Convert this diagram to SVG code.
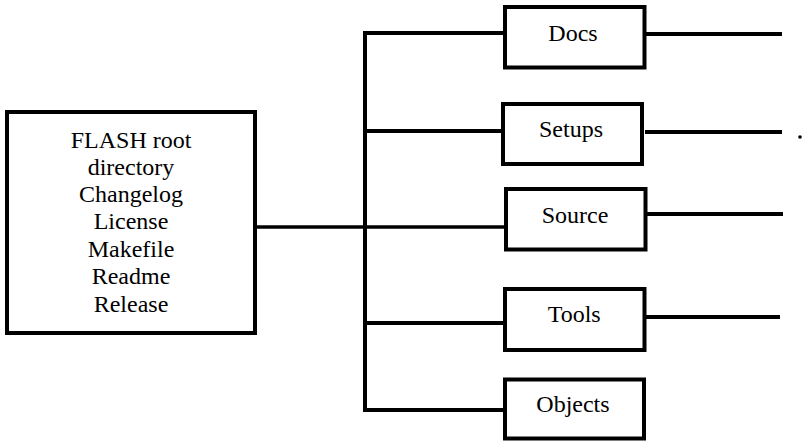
<svg xmlns="http://www.w3.org/2000/svg" width="812" height="441" viewBox="0 0 812 441">
<rect width="812" height="441" fill="#fff"/>
<g id="connectors" stroke="#000" stroke-width="4" fill="none">
<path d="M365 33 V410"/>
<path d="M363 33 H505"/>
<path d="M365 131 H503"/>
<path stroke-width="3.5" d="M255 227 H506"/>
<path d="M365 323 H505"/>
<path d="M363 410 H505"/>
<path d="M646 34 H782"/>
<path d="M645 132 H782"/>
<path d="M647 214 H783"/>
<path d="M646 317 H780"/>
<circle cx="800" cy="137" r="1.8" fill="#000" stroke="none"/>
</g>
<g id="root">
<rect x="7" y="112" width="248" height="221" fill="#fff" stroke="#000" stroke-width="4"/>
<text x="70.7" y="147.5" font-family="Liberation Serif" font-size="24">FLASH root</text>
<text x="87.7" y="174.8" font-family="Liberation Serif" font-size="24">directory</text>
<text x="79" y="202.1" font-family="Liberation Serif" font-size="24">Changelog</text>
<text x="93.7" y="229.4" font-family="Liberation Serif" font-size="24">License</text>
<text x="87.7" y="256.7" font-family="Liberation Serif" font-size="24">Makefile</text>
<text x="91.7" y="284" font-family="Liberation Serif" font-size="24">Readme</text>
<text x="93.7" y="311.5" font-family="Liberation Serif" font-size="24">Release</text>
</g>
<g id="docs">
<rect x="505" y="7" width="139.5" height="60.5" fill="#fff" stroke="#000" stroke-width="4"/>
<text x="548.3" y="40.7" font-family="Liberation Serif" font-size="24">Docs</text>
</g>
<g id="setups">
<rect x="503" y="104" width="139" height="60" fill="#fff" stroke="#000" stroke-width="4"/>
<text x="539" y="137.3" font-family="Liberation Serif" font-size="24">Setups</text>
</g>
<g id="source">
<rect x="506" y="189" width="139.5" height="60.5" fill="#fff" stroke="#000" stroke-width="4"/>
<text x="541.7" y="223.3" font-family="Liberation Serif" font-size="24">Source</text>
</g>
<g id="tools">
<rect x="505" y="289" width="139.5" height="61" fill="#fff" stroke="#000" stroke-width="4"/>
<text x="547.7" y="321.7" font-family="Liberation Serif" font-size="24">Tools</text>
</g>
<g id="objects">
<rect x="505" y="379.5" width="139" height="59" fill="#fff" stroke="#000" stroke-width="4"/>
<text x="536.3" y="411.7" font-family="Liberation Serif" font-size="24">Objects</text>
</g>
</svg>
